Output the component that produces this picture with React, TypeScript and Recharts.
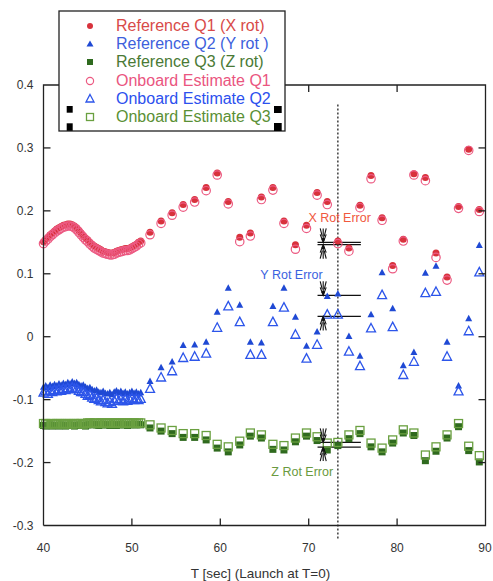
import React from "react";
import {
  ScatterChart,
  Scatter,
  XAxis,
  YAxis,
  ReferenceLine,
  ReferenceDot,
} from "recharts";

// dense sampling before T=51 s
const denseT = [
  40, 40.25, 40.5, 40.75, 41, 41.25, 41.5, 41.75, 42, 42.25, 42.5, 42.75, 43,
  43.25, 43.5, 43.75, 44, 44.25, 44.5, 44.75, 45, 45.25, 45.5, 45.75, 46, 46.25,
  46.5, 46.75, 47, 47.25, 47.5, 47.75, 48, 48.25, 48.5, 48.75, 49, 49.25, 49.5,
  49.75, 50, 50.25, 50.5, 50.75, 51,
];
const q1RefDense = [
  0.151, 0.155, 0.158, 0.162, 0.165, 0.168, 0.171, 0.173, 0.175, 0.177, 0.178,
  0.179, 0.179, 0.178, 0.176, 0.173, 0.169, 0.165, 0.161, 0.157, 0.154, 0.15,
  0.147, 0.144, 0.142, 0.14, 0.138, 0.136, 0.135, 0.134, 0.133, 0.133, 0.134,
  0.136, 0.137, 0.138, 0.139, 0.14, 0.14, 0.141, 0.143, 0.145, 0.147, 0.15,
  0.152,
];
const q1EstDense = [
  0.148, 0.152, 0.155, 0.159, 0.162, 0.165, 0.168, 0.17, 0.172, 0.174, 0.175,
  0.176, 0.176, 0.175, 0.173, 0.17, 0.166, 0.162, 0.158, 0.154, 0.151, 0.147,
  0.144, 0.141, 0.139, 0.137, 0.135, 0.133, 0.132, 0.131, 0.13, 0.13, 0.131,
  0.133, 0.134, 0.135, 0.136, 0.137, 0.137, 0.138, 0.14, 0.142, 0.144, 0.147,
  0.149,
];
const q2RefDense = [
  -0.08, -0.078, -0.081, -0.077, -0.079, -0.076, -0.078, -0.075, -0.077, -0.074,
  -0.076, -0.073, -0.075, -0.072, -0.074, -0.073, -0.076, -0.078, -0.077, -0.08,
  -0.082, -0.081, -0.084, -0.086, -0.085, -0.088, -0.089, -0.087, -0.09, -0.091,
  -0.089, -0.092, -0.088, -0.086, -0.089, -0.087, -0.09, -0.088, -0.091, -0.089,
  -0.087, -0.09, -0.088, -0.091, -0.089,
];
const q2EstDense = [
  -0.089, -0.087, -0.091, -0.086, -0.088, -0.085, -0.087, -0.084, -0.086, -0.083,
  -0.085, -0.082, -0.084, -0.081, -0.083, -0.083, -0.086, -0.088, -0.088, -0.091,
  -0.094, -0.093, -0.097, -0.099, -0.098, -0.101, -0.103, -0.101, -0.104, -0.106,
  -0.104, -0.107, -0.102, -0.099, -0.102, -0.1, -0.103, -0.1, -0.102, -0.1,
  -0.098, -0.101, -0.099, -0.101, -0.099,
];
const q3RefDense = [
  -0.141, -0.142, -0.141, -0.14, -0.142, -0.141, -0.141, -0.142, -0.14, -0.141,
  -0.142, -0.141, -0.14, -0.141, -0.142, -0.141, -0.14, -0.141, -0.141, -0.142,
  -0.14, -0.139, -0.14, -0.139, -0.14, -0.141, -0.14, -0.139, -0.14, -0.14,
  -0.141, -0.139, -0.14, -0.141, -0.14, -0.139, -0.14, -0.14, -0.141, -0.14,
  -0.139, -0.14, -0.14, -0.139, -0.14,
];
const q3EstDense = [
  -0.138, -0.138, -0.139, -0.138, -0.138, -0.139, -0.138, -0.138, -0.138, -0.139,
  -0.138, -0.138, -0.138, -0.139, -0.138, -0.138, -0.138, -0.138, -0.139, -0.138,
  -0.137, -0.137, -0.138, -0.137, -0.137, -0.138, -0.137, -0.137, -0.137, -0.138,
  -0.137, -0.137, -0.137, -0.138, -0.137, -0.137, -0.137, -0.138, -0.137, -0.137,
  -0.137, -0.137, -0.138, -0.137, -0.137,
];

// sparse sampling after T=51 s
const sparseT = [
  52.05, 53.3, 54.55, 55.8, 57.1, 58.4, 59.65, 60.9, 62.2, 63.4, 64.65, 65.95,
  67.2, 68.5, 69.75, 70.95, 72.1, 73.3, 74.55, 75.8, 77.05, 78.3, 79.5, 80.7,
  81.9, 83.2, 84.4, 85.65, 86.95, 88.1, 89.3,
];
const q1RefSparse = [
  0.166, 0.184, 0.197, 0.21, 0.218, 0.237, 0.26, 0.215, 0.158, 0.165, 0.222,
  0.237, 0.184, 0.146, 0.177, 0.229, 0.215, 0.152, 0.141, 0.209, 0.256, 0.189,
  0.113, 0.155, 0.259, 0.253, 0.133, 0.095, 0.207, 0.298, 0.202,
];
const q1EstSparse = [
  0.162, 0.18, 0.193, 0.206, 0.214, 0.232, 0.257, 0.211, 0.151, 0.16, 0.218,
  0.233, 0.18, 0.139, 0.172, 0.225, 0.21, 0.148, 0.136, 0.205, 0.251, 0.185,
  0.108, 0.152, 0.257, 0.248, 0.126, 0.09, 0.204, 0.296, 0.199,
];
const q2RefSparse = [
  -0.071, -0.049, -0.04, -0.014, -0.013, -0.0085, 0.039, 0.077, 0.05, -0.0085,
  -0.01, 0.048, 0.077, 0.031, -0.015, 0.0075, 0.064, 0.068, 0.0005, -0.031,
  0.035, 0.102, 0.0445, -0.046, -0.025, 0.101, 0.112, -0.0085, -0.078, 0.0286,
  0.145,
];
const q2EstSparse = [
  -0.083, -0.065, -0.055, -0.034, -0.032, -0.027, 0.014, 0.048, 0.023, -0.029,
  -0.029, 0.023, 0.046, 0.003, -0.035, -0.013, 0.035, 0.035, -0.024, -0.047,
  0.013, 0.066, 0.015, -0.061, -0.04, 0.069, 0.071, -0.032, -0.087, 0.0085,
  0.102,
];
const q3RefSparse = [
  -0.145, -0.15, -0.154, -0.16, -0.16, -0.164, -0.177, -0.183, -0.172, -0.158,
  -0.161, -0.179, -0.18, -0.167, -0.158, -0.165, -0.18, -0.173, -0.162, -0.154,
  -0.175, -0.183, -0.169, -0.153, -0.157, -0.197, -0.182, -0.161, -0.143,
  -0.181, -0.199,
];
const q3EstSparse = [
  -0.14, -0.145, -0.149, -0.154, -0.154, -0.157, -0.171, -0.175, -0.166, -0.153,
  -0.156, -0.171, -0.173, -0.161, -0.153, -0.159, -0.169, -0.168, -0.156,
  -0.149, -0.169, -0.177, -0.164, -0.148, -0.153, -0.188, -0.175, -0.156,
  -0.138, -0.174, -0.189,
];

const xTicks = [40, 50, 60, 70, 80, 90];
const yTicks = [-0.3, -0.2, -0.1, 0, 0.1, 0.2, 0.3, 0.4];
const yTickLabels = ["-0.3", "-0.2", "-0.1", "0", "0.1", "0.2", "0.3", "0.4"];
const xRange = [40, 90];
const yRange = [-0.3, 0.4];

// annotation positions (data units)
const markerT = 73.3;
const markerSpan = [0.369, -0.323];
const errSpanT = [71.0, 75.9];
const arrowT = 71.64;
const xErrLevels = [0.1499, 0.1463];
const yErrLevels = [0.0657, 0.0323];
const zErrLevels = [-0.168, -0.1754];
const errLabels = [
  { t: 73.5, v: 0.19, text: "X Rot Error", color: "#f0583e" },
  { t: 68.05, v: 0.0986, text: "Y Rot Error", color: "#3a62e0" },
  { t: 69.27, v: -0.214, text: "Z Rot Error", color: "#6a9a40" },
];

const FONT = "Liberation Sans, Arial, sans-serif";
const AXIS = "#222";
const AXIS_W = 1.3;

const RED = "#d8323c";
const PINK = "#ec5a82";
const BLUE = "#1f49d4";
const BLUE2 = "#2c55ea";
const GREEN = "#2f6a1e";
const GREEN2 = "#6aa040";

const zip = (t: number[], v: number[]) => t.map((x, i) => ({ x, y: v[i] }));
const both = (d: number[], s: number[]) => [...zip(denseT, d), ...zip(sparseT, s)];

const q1Ref = both(q1RefDense, q1RefSparse);
const q1Est = both(q1EstDense, q1EstSparse);
const q2Ref = both(q2RefDense, q2RefSparse);
const q2Est = both(q2EstDense, q2EstSparse);
const q3Ref = both(q3RefDense, q3RefSparse);
const q3Est = both(q3EstDense, q3EstSparse);

// frame outline and tick positions, in data units, drawn through the scatter scales
const frameOutline = [
  { x: xRange[0], y: yRange[0] },
  { x: xRange[1], y: yRange[0] },
  { x: xRange[1], y: yRange[1] },
  { x: xRange[0], y: yRange[1] },
  { x: xRange[0], y: yRange[0] },
];
const innerX = xTicks.slice(1, -1);
const innerY = yTicks.slice(1, -1);
const bottomTickPts = innerX.map((t) => ({ x: t, y: yRange[0] }));
const topTickPts = innerX.map((t) => ({ x: t, y: yRange[1] }));
const leftTickPts = innerY.map((v) => ({ x: xRange[0], y: v }));
const rightTickPts = innerY.map((v) => ({ x: xRange[1], y: v }));

const triPath = (cx: number, cy: number, w: number, h: number) =>
  `M${cx},${cy - h * 0.6}L${cx + w / 2},${cy + h * 0.4}L${cx - w / 2},${cy + h * 0.4}Z`;

const dotFilled = (p: any) => <circle cx={p.cx} cy={p.cy} r={3.5} fill={RED} />;
const dotOpen = (p: any) => (
  <circle cx={p.cx} cy={p.cy} r={4.2} fill="none" stroke={PINK} strokeWidth={1.2} />
);
const triFilled = (p: any) => <path d={triPath(p.cx, p.cy, 7, 6.5)} fill={BLUE} />;
const triOpen = (p: any) => (
  <path d={triPath(p.cx, p.cy, 9, 8.5)} fill="none" stroke={BLUE2} strokeWidth={1.3} />
);
const sqFilled = (p: any) => (
  <rect x={p.cx - 3.5} y={p.cy - 3.5} width={7} height={7} fill={GREEN} />
);
const sqOpen = (p: any) => (
  <rect
    x={p.cx - 4}
    y={p.cy - 4}
    width={8}
    height={8}
    fill="none"
    stroke={GREEN2}
    strokeWidth={1.3}
  />
);
const noMark = (p: any) => <circle cx={p.cx} cy={p.cy} r={0} fill="none" />;

const BottomTick = ({ x, y, payload }: any) => (
  <text x={x} y={y + 26} textAnchor="middle" fontSize={12} fill="#333" fontFamily={FONT}>
    {payload.value}
  </text>
);
const LeftTick = ({ x, y, payload }: any) => {
  const i = yTicks.indexOf(payload.value);
  return (
    <text x={x - 10} y={y + 4} textAnchor="end" fontSize={12} fill="#333" fontFamily={FONT}>
      {i >= 0 ? yTickLabels[i] : String(payload.value)}
    </text>
  );
};

// inward tick mark at a point on the frame
const tickMark = (dx: number, dy: number) => (p: any) => (
  <path
    d={`M${p.cx},${p.cy}L${p.cx + dx},${p.cy + dy}`}
    stroke={AXIS}
    strokeWidth={AXIS_W}
    fill="none"
  />
);

const arrow = (dir: number) => (p: any) => {
  const { cx, cy } = p;
  const tail = cy - dir * 14;
  return (
    <g stroke="#111" strokeWidth={1.1} fill="none">
      <line x1={cx} y1={tail} x2={cx} y2={cy} />
      <polyline points={`${cx - 3},${cy - dir * 8} ${cx},${cy} ${cx + 3},${cy - dir * 8}`} />
      <line x1={cx - 3} y1={tail} x2={cx - 1} y2={cy - dir * 6} />
      <line x1={cx + 3} y1={tail} x2={cx + 1} y2={cy - dir * 6} />
      <circle cx={cx} cy={cy - dir * 3} r={1.6} fill="#111" stroke="none" />
    </g>
  );
};

const legendRows = [
  { label: "Reference Q1 (X rot)", color: "#d84a48", kind: "dotFilled" },
  { label: "Reference Q2 (Y rot )", color: "#3d5fdc", kind: "triFilled" },
  { label: "Reference Q3 (Z rot)", color: "#4a7a35", kind: "sqFilled" },
  { label: "Onboard Estimate Q1", color: "#ea5580", kind: "dotOpen" },
  { label: "Onboard Estimate Q2", color: "#2c50ee", kind: "triOpen" },
  { label: "Onboard Estimate Q3", color: "#5a9035", kind: "sqOpen" },
];
const legendRowY = [15, 33, 51, 70, 88, 106];

function LegendMark({ kind, cx, cy }: { kind: string; cx: number; cy: number }) {
  switch (kind) {
    case "dotFilled":
      return <circle cx={cx} cy={cy} r={3} fill={RED} />;
    case "triFilled":
      return <path d={triPath(cx, cy, 7, 6)} fill={BLUE} />;
    case "sqFilled":
      return <rect x={cx - 3} y={cy - 3} width={6} height={6} fill={GREEN} />;
    case "dotOpen":
      return <circle cx={cx} cy={cy} r={3.6} fill="none" stroke={PINK} strokeWidth={1.2} />;
    case "triOpen":
      return <path d={triPath(cx, cy, 8, 7.5)} fill="none" stroke={BLUE2} strokeWidth={1.3} />;
    default:
      return (
        <rect x={cx - 3.5} y={cy - 3.5} width={7} height={7} fill="none" stroke={GREEN2} strokeWidth={1.3} />
      );
  }
}

function ChartLegend() {
  return (
    <svg
      width={228}
      height={122}
      style={{ position: "absolute", left: 58, top: 10, pointerEvents: "none" }}
    >
      <rect x={1} y={1} width={226} height={120} fill="#fff" stroke={AXIS} strokeWidth={1.3} />
      {legendRows.map((r, i) => (
        <g key={r.label}>
          <LegendMark kind={r.kind} cx={32} cy={legendRowY[i] + 1} />
          <text x={58} y={legendRowY[i] + 6} fontSize={16} fill={r.color} fontFamily={FONT}>
            {r.label}
          </text>
        </g>
      ))}
      <rect x={8.7} y={96} width={6} height={6.7} fill="#000" />
      <rect x={8.7} y={113.3} width={6} height={7.5} fill="#000" />
      <rect x={216} y={96} width={7.7} height={7} fill="#000" />
      <rect x={216} y={113} width={7.7} height={8} fill="#000" />
    </svg>
  );
}

export default function App() {
  return (
    <div
      style={{
        position: "absolute",
        left: 0,
        top: 0,
        width: 493,
        height: 581,
        background: "#fff",
        fontFamily: FONT,
      }}
    >
      <ScatterChart
        width={493}
        height={581}
        margin={{ top: 85, right: 7.5, bottom: 25.5, left: 0 }}
      >
        <XAxis
          dataKey="x"
          type="number"
          domain={xRange}
          ticks={xTicks}
          tick={BottomTick}
          tickSize={0}
          tickMargin={0}
          height={30}
          axisLine={false}
          tickLine={false}
        />
        <YAxis
          dataKey="y"
          type="number"
          domain={yRange}
          ticks={yTicks}
          tick={LeftTick}
          tickSize={0}
          tickMargin={0}
          width={43.5}
          axisLine={false}
          tickLine={false}
        />

        <Scatter data={q1Ref} shape={dotFilled} isAnimationActive={false} />
        <Scatter data={q2Ref} shape={triFilled} isAnimationActive={false} />
        <Scatter data={q3Ref} shape={sqFilled} isAnimationActive={false} />
        <Scatter data={q1Est} shape={dotOpen} isAnimationActive={false} />
        <Scatter data={q2Est} shape={triOpen} isAnimationActive={false} />
        <Scatter data={q3Est} shape={sqOpen} isAnimationActive={false} />

        {/* plot frame and inward ticks */}
        <Scatter
          data={frameOutline}
          shape={noMark}
          line={{ stroke: AXIS, strokeWidth: AXIS_W }}
          lineType="joint"
          isAnimationActive={false}
        />
        <Scatter data={bottomTickPts} shape={tickMark(0, -7)} isAnimationActive={false} />
        <Scatter data={topTickPts} shape={tickMark(0, 7)} isAnimationActive={false} />
        <Scatter data={leftTickPts} shape={tickMark(7, 0)} isAnimationActive={false} />
        <Scatter data={rightTickPts} shape={tickMark(-7, 0)} isAnimationActive={false} />

        <ReferenceLine
          segment={[
            { x: markerT, y: markerSpan[0] },
            { x: markerT, y: markerSpan[1] },
          ]}
          stroke="#222"
          strokeWidth={1.3}
          strokeDasharray="2 2"
          ifOverflow="visible"
        />
        {[...xErrLevels, ...yErrLevels, ...zErrLevels].map((v, i) => (
          <ReferenceLine
            key={`err-${i}`}
            segment={[
              { x: errSpanT[0], y: v },
              { x: errSpanT[1], y: v },
            ]}
            stroke="#111"
            strokeWidth={1.2}
          />
        ))}
        {[xErrLevels, yErrLevels, zErrLevels].map((lv, i) => (
          <ReferenceDot key={`ad-${i}`} x={arrowT} y={lv[0]} r={0} shape={arrow(1)} />
        ))}
        {[xErrLevels, yErrLevels, zErrLevels].map((lv, i) => (
          <ReferenceDot key={`au-${i}`} x={arrowT} y={lv[1]} r={0} shape={arrow(-1)} />
        ))}
        {errLabels.map((l) => (
          <ReferenceDot
            key={l.text}
            x={l.t}
            y={l.v}
            r={0}
            shape={(p: any) => (
              <text
                x={p.cx}
                y={p.cy + 4.5}
                textAnchor="middle"
                fontSize={12.5}
                fill={l.color}
                fontFamily={FONT}
              >
                {l.text}
              </text>
            )}
          />
        ))}
      </ScatterChart>
      <ChartLegend />
      <div
        style={{
          position: "absolute",
          left: 0,
          width: 493,
          top: 566,
          textAlign: "center",
          fontSize: 13.5,
          color: "#333",
          fontFamily: FONT,
          paddingLeft: 28,
          boxSizing: "border-box",
        }}
      >
        T [sec] (Launch at T=0)
      </div>
    </div>
  );
}
